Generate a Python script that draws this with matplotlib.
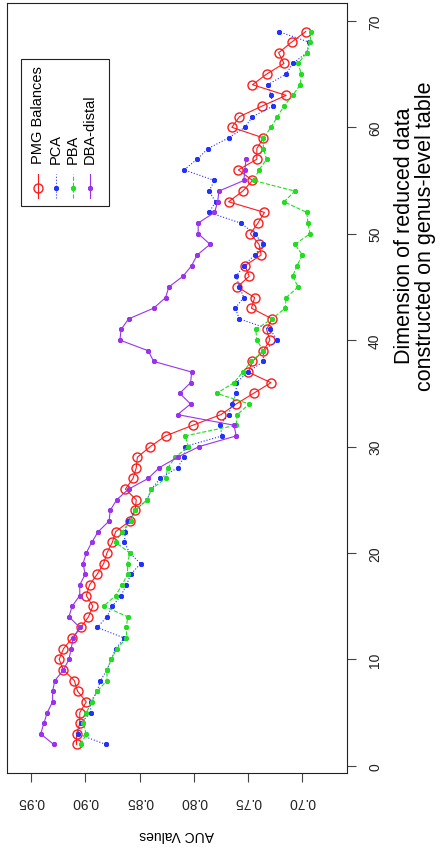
import matplotlib
matplotlib.use("Agg")
import matplotlib.pyplot as plt
from matplotlib.lines import Line2D
from matplotlib.patches import Rectangle

plt.rcParams['font.family'] = ['Liberation Sans', 'DejaVu Sans']

# dimension of reduced data (x of the original plot, drawn vertically here)
dims = list(range(2, 70))

pmg_balances = [
    0.908, 0.908, 0.905, 0.905, 0.899, 0.907, 0.910, 0.920, 0.924, 0.920,
    0.912, 0.904, 0.897, 0.893, 0.899, 0.896, 0.889, 0.883, 0.880, 0.875,
    0.872, 0.859, 0.854, 0.853, 0.863, 0.856, 0.853, 0.852, 0.840, 0.826,
    0.801, 0.775, 0.761, 0.745, 0.729, 0.750, 0.746, 0.736, 0.730, 0.733,
    0.728, 0.747, 0.744, 0.760, 0.749, 0.753, 0.738, 0.740, 0.748, 0.741,
    0.735, 0.768, 0.755, 0.746, 0.759, 0.742, 0.742, 0.736, 0.765, 0.758,
    0.737, 0.715, 0.746, 0.733, 0.717, 0.722, 0.710, 0.697,
]
pca = [
    0.881, 0.907, 0.904, 0.895, 0.895, 0.889, 0.886, 0.880, 0.876, 0.872,
    0.864, 0.889, 0.880, 0.875, 0.867, 0.862, 0.858, 0.849, 0.859, 0.864,
    0.863, 0.861, 0.854, 0.843, 0.839, 0.831, 0.815, 0.809, 0.808, 0.774,
    0.776, 0.768, 0.765, 0.761, 0.761, 0.750, 0.736, 0.736, 0.723, 0.730,
    0.758, 0.762, 0.754, 0.758, 0.761, 0.754, 0.744, 0.736, 0.744, 0.757,
    0.786, 0.780, 0.786, 0.781, 0.809, 0.797, 0.787, 0.768, 0.753, 0.746,
    0.727, 0.729, 0.732, 0.715, 0.709, 0.696, 0.694, 0.722,
]
pba = [
    0.904, 0.899, 0.902, 0.899, 0.894, 0.889, 0.880, 0.880, 0.876, 0.871,
    0.862, 0.862, 0.861, 0.883, 0.872, 0.866, 0.861, 0.861, 0.859, 0.872,
    0.866, 0.858, 0.854, 0.843, 0.839, 0.826, 0.824, 0.817, 0.805, 0.808,
    0.761, 0.760, 0.749, 0.779, 0.763, 0.755, 0.747, 0.736, 0.742, 0.743,
    0.728, 0.716, 0.715, 0.704, 0.709, 0.705, 0.700, 0.707, 0.693, 0.695,
    0.696, 0.717, 0.707, 0.745, 0.740, 0.733, 0.736, 0.736, 0.729, 0.723,
    0.717, 0.709, 0.702, 0.701, 0.704, 0.696, 0.693, 0.692,
]
# DBA-distal only goes up to dimension 57
dba_distal = [
    0.929, 0.941, 0.938, 0.935, 0.930, 0.930, 0.928, 0.920, 0.915, 0.913,
    0.911, 0.905, 0.915, 0.912, 0.905, 0.905, 0.900, 0.902, 0.899, 0.894,
    0.888, 0.878, 0.877, 0.871, 0.860, 0.842, 0.832, 0.815, 0.795, 0.761,
    0.763, 0.815, 0.803, 0.813, 0.803, 0.802, 0.837, 0.842, 0.868, 0.867,
    0.860, 0.837, 0.826, 0.823, 0.810, 0.802, 0.797, 0.785, 0.796, 0.796,
    0.781, 0.778, 0.777, 0.754, 0.753, 0.752,
]

series_names = ["PMG Balances", "PCA", "PBA", "DBA-distal"]
series_colors = ["#ff1a1a", "#2233ff", "#22dd22", "#9933ee"]
series_styles = ["-", ":", "--", "-"]
star = (8, 2, 0)
series_markers = ["o", star, star, star]

auc_ticks = [0.95, 0.90, 0.85, 0.80, 0.75, 0.70]
dim_ticks = [0, 10, 20, 30, 40, 50, 60, 70]

fig = plt.figure(figsize=(4.46, 8.53), dpi=100)
ax = fig.add_axes([7 / 446, 79 / 853, 340 / 446, 770 / 853])

all_series = [pmg_balances, pca, pba, dba_distal]
for vals, col, ls, mk in zip(all_series, series_colors, series_styles, series_markers):
    d = dims[:len(vals)]
    if mk == "o":
        ax.plot(vals, d, color=col, linestyle=ls, linewidth=0.8,
                marker="o", markersize=6.5, markerfacecolor="none",
                markeredgewidth=1.0)
    else:
        ax.plot(vals, d, color=col, linestyle=ls, linewidth=0.8,
                marker=mk, markersize=3.6, markeredgewidth=0.9)

ax.set_xlim(0.972, 0.659)
ax.set_ylim(-0.68, 71.68)

for s in ax.spines.values():
    s.set_linewidth(0.8)
    s.set_color("#222222")

ax.set_xticks(auc_ticks)
ax.set_xticklabels([f"{t:.2f}" for t in auc_ticks], rotation=180)
ax.set_yticks(dim_ticks)
ax.yaxis.tick_right()
ax.set_yticklabels([str(t) for t in dim_ticks], rotation=90,
                   family=['Liberation Sans Narrow', 'Liberation Sans'])
for lab in ax.get_yticklabels():
    lab.set_va("center")
ax.tick_params(axis="both", direction="out", length=6.7, width=0.8,
               color="#444444", labelsize=10, labelcolor="#222222", pad=8.5)

ax.set_xlabel("AUC Values", fontsize=10, rotation=180)
ax.xaxis.set_label_coords(0.5, -0.079)
ax.xaxis.label.set_va("center")

ax.yaxis.set_label_position("right")
ax.set_ylabel("Dimension of reduced data\nconstructed on genus-level table",
              fontsize=15.5, rotation=90, linespacing=1.0)
ax.yaxis.set_label_coords(1.2, 0.699)
ax.yaxis.label.set_va("center")
ax.yaxis.label.set_ha("center")

# legend drawn by hand, rotated like the rest of the chart
ax.add_patch(Rectangle((0.0403, 0.7368), 0.2606, 0.1905, transform=ax.transAxes,
                       facecolor="white", edgecolor="#222222", linewidth=0.8,
                       zorder=5))
leg_x = [0.0921, 0.1432, 0.1932, 0.2441]
for lx, name, col, ls, mk in zip(leg_x, series_names, series_colors,
                                 series_styles, series_markers):
    ax.add_line(Line2D([lx, lx], [0.7468, 0.7779], transform=ax.transAxes,
                       color=col, linestyle=ls, linewidth=0.8, zorder=6))
    if mk == "o":
        ax.add_line(Line2D([lx], [0.7597], transform=ax.transAxes, color=col,
                           marker="o", markersize=6.5, markerfacecolor="none",
                           markeredgewidth=1.0, zorder=6))
    else:
        ax.add_line(Line2D([lx], [0.7597], transform=ax.transAxes, color=col,
                           marker=mk, markersize=3.6, markeredgewidth=0.9,
                           zorder=6))
    ax.text(lx, 0.792, name, transform=ax.transAxes, rotation=90,
            ha="center", va="bottom", fontsize=10.5, zorder=6)

plt.savefig("out.png", dpi=100, facecolor="white")
plt.close()
